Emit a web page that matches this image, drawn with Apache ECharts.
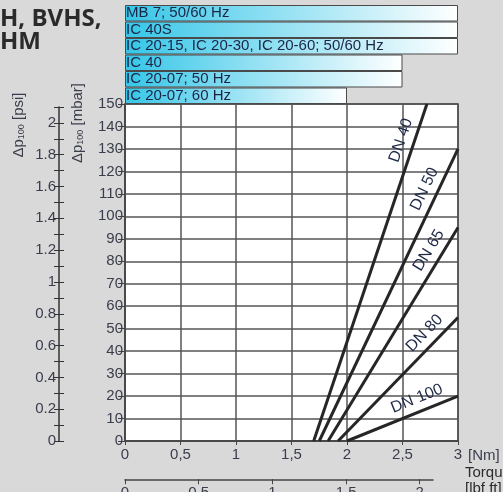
<!DOCTYPE html>
<html><head><meta charset="utf-8">
<script src="https://cdn.jsdelivr.net/npm/echarts@6/dist/echarts.min.js"></script>
<style>html,body{margin:0;padding:0;background:#d9d9d9;}#c{width:503px;height:492px;}</style>
</head><body><div id="c"></div>
<script>
// Actuator torque bars (max torque in Nm)
const actuators = ['MB 7; 50/60 Hz','IC 40S','IC 20-15, IC 20-30, IC 20-60; 50/60 Hz','IC 40','IC 20-07; 50 Hz','IC 20-07; 60 Hz'];
const actuatorTorque = [3, 3, 3, 2.5, 2.5, 2];
// Valve lines: [torque Nm, dp mbar] start and end
const valveNames = ['DN 40','DN 50','DN 65','DN 80','DN 100'];
const valveStart = [[1.7,0],[1.75,0],[1.83,0],[1.92,0],[2.0,0]];
const valveEnd = [[2.72,150],[3,130],[3,95],[3,55],[3,20]];
// Axis ticks
const lbfTicks = [0,0.5,1,1.5,2];

const FONT = "'Liberation Sans',Arial,sans-serif";
const TXT = '#3a3d4c';
const labelGap = [20, 28, 12, 12, 12]; // label offset along each line (px, style only)
const chart = echarts.init(document.getElementById('c'), null, {renderer:'canvas'});
const comma = v => String(v).replace('.', ',');

const lineSeries = valveNames.map((n,i)=>({
  type:'line', name:n, xAxisIndex:0, yAxisIndex:0,
  data:[valveStart[i], valveEnd[i]], symbol:'none', silent:true,
  lineStyle:{color:'#262626', width:3},
  markLine:{
    silent:true, symbol:'none',
    lineStyle:{color:'rgba(0,0,0,0)', width:1, type:'solid'},
    label:{show:true, position:'insideEndTop', formatter:n, color:'#1f2a48',
      fontFamily:FONT, fontSize:16, distance:[labelGap[i],5]},
    data:[[{coord:valveStart[i]},{coord:valveEnd[i]}]]
  }
}));

chart.setOption({
  backgroundColor:'#d9d9d9',
  animation:false,
  grid:[
    {left:125, top:104, width:333, height:337, show:true, backgroundColor:'#ffffff', borderColor:'#444', borderWidth:1.5},
    {left:125, top:5, width:333, height:99},
    {left:59, top:107, width:1, height:334},
    {left:125, top:479, width:308, height:1}
  ],
  xAxis:[
    {gridIndex:0, type:'value', min:0, max:3, interval:0.5,
     axisLine:{show:true, lineStyle:{color:'#444', width:1.5}},
     axisTick:{show:true, length:4, lineStyle:{color:'#444'}},
     splitLine:{show:true, lineStyle:{color:'#555', width:1.5}},
     axisLabel:{formatter:comma, color:TXT, fontFamily:FONT, fontSize:15, margin:6},
     name:'[Nm]', nameLocation:'end', nameGap:4,
     nameTextStyle:{color:TXT, fontFamily:FONT, fontSize:15, verticalAlign:'top', padding:[7,0,0,0]}},
    {gridIndex:1, type:'value', min:0, max:3, show:false},
    {gridIndex:2, type:'value', show:false},
    {gridIndex:3, type:'value', min:0, max:2.09,
     axisLine:{show:true, lineStyle:{color:'#444', width:1.5}},
     axisTick:{show:true, inside:false, length:5, customValues:lbfTicks, lineStyle:{color:'#444'}},
     splitLine:{show:false},
     axisLabel:{customValues:lbfTicks, formatter:comma, color:TXT, fontFamily:FONT, fontSize:15, margin:6}},
    {gridIndex:3, type:'value', min:0, max:2.09,
     axisLine:{show:false},
     axisTick:{show:true, inside:true, length:5, customValues:lbfTicks, lineStyle:{color:'#444'}},
     splitLine:{show:false}, axisLabel:{show:false}}
  ],
  yAxis:[
    {gridIndex:0, type:'value', min:0, max:150, interval:10,
     axisLine:{show:true, lineStyle:{color:'#444', width:1.5}},
     axisTick:{show:true, length:7, lineStyle:{color:'#444'}},
     splitLine:{show:true, lineStyle:{color:'#555', width:1.5}},
     axisLabel:{color:TXT, fontFamily:FONT, fontSize:15, margin:2}},
    {gridIndex:1, type:'category', data:actuators, inverse:true, show:false},
    {gridIndex:2, type:'value', min:0, max:2.1, interval:0.1, position:'left',
     axisLine:{show:true, lineStyle:{color:'#333', width:1.5}},
     axisTick:{show:true, inside:false, length:5, lineStyle:{color:'#333'}},
     splitLine:{show:false},
     axisLabel:{color:TXT, fontFamily:FONT, fontSize:15, margin:3,
       formatter:v=>{const t=Math.round(v*10); return (t%2===0 && t<=20)? String(t/10):'';}}},
    {gridIndex:2, type:'value', min:0, max:2.1, interval:0.1, position:'left',
     axisLine:{show:false},
     axisTick:{show:true, inside:true, length:5, lineStyle:{color:'#333'}},
     splitLine:{show:false}, axisLabel:{show:false}},
    {gridIndex:3, type:'value', show:false}
  ],
  series:[
    {type:'bar', xAxisIndex:1, yAxisIndex:1, data:actuatorTorque, barCategoryGap:'0%', silent:true,
     itemStyle:{borderColor:'#4a4a4a', borderWidth:1,
       color:new echarts.graphic.LinearGradient(0,0,1,0,[{offset:0,color:'#36c6e8'},{offset:1,color:'#ffffff'}])},
     label:{show:true, position:'insideLeft', distance:1, formatter:'{b}', color:'#1c2545',
       fontFamily:FONT, fontSize:15}}
  ].concat(lineSeries),
  graphic:[
    {type:'text', left:0, top:7, style:{text:'H, BVHS,\nHM', fill:'#2b2b2b',
      font:"bold 24px 'Open Sans',sans-serif", lineHeight:23}},
    {type:'text', x:78, y:123, rotation:Math.PI/2,
     style:{text:'{a|Δp}{s|100}{a| [mbar]}', align:'center', verticalAlign:'middle', fill:TXT,
       rich:{a:{fontFamily:FONT, fontSize:15, fill:TXT}, s:{fontFamily:FONT, fontSize:9, fill:TXT, padding:[6,0,0,0]}}}},
    {type:'text', x:19, y:125, rotation:Math.PI/2,
     style:{text:'{a|Δp}{s|100}{a| [psi]}', align:'center', verticalAlign:'middle', fill:TXT,
       rich:{a:{fontFamily:FONT, fontSize:15, fill:TXT}, s:{fontFamily:FONT, fontSize:9, fill:TXT, padding:[6,0,0,0]}}}},
    {type:'text', x:465, y:465, style:{text:'Torque\n[lbf ft]', fill:'#2b2b2b',
      font:"15px 'Liberation Sans',sans-serif", lineHeight:16}}
  ]
});
</script></body></html>
